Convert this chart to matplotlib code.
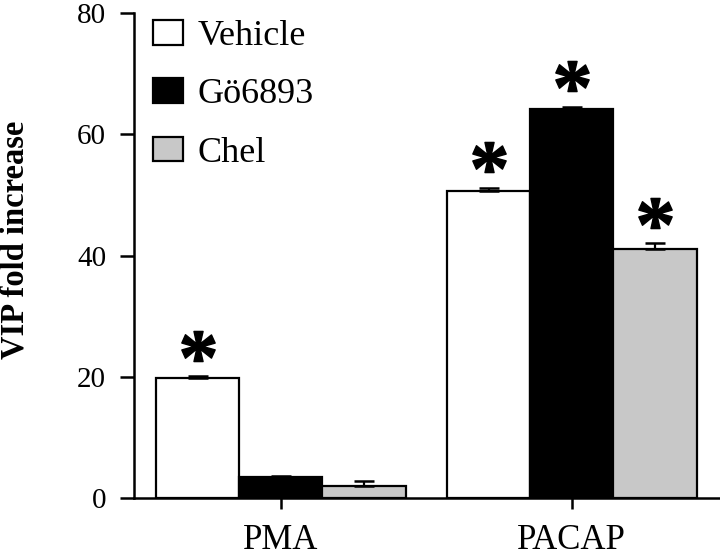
import matplotlib
matplotlib.use("Agg")
import matplotlib.pyplot as plt
import matplotlib.transforms as mtransforms
import numpy as np
from matplotlib.patches import Patch
from matplotlib.textpath import TextPath
from matplotlib.font_manager import FontProperties
from matplotlib.path import Path

groups = ["PMA", "PACAP"]
treatments = ["Vehicle", "Gö6893", "Chel"]
means = {
    "Vehicle": [19.8, 50.7],
    "Gö6893": [3.5, 64.1],
    "Chel": [2.0, 41.1],
}
errors = {
    "Vehicle": [0.3, 0.5],
    "Gö6893": [0.2, 0.4],
    "Chel": [0.8, 0.9],
}
# which bars get a significance star
stars = {
    "Vehicle": [True, True],
    "Gö6893": [False, True],
    "Chel": [False, True],
}
colors = {"Vehicle": "white", "Gö6893": "black", "Chel": "#c8c8c8"}

plt.rcParams["font.family"] = ["Liberation Serif", "DejaVu Serif"]

# star marker built from a glyph, centred on its own bbox
tp = TextPath((0, 0), "*", size=10,
              prop=FontProperties(family="Liberation Serif", weight="bold"))
verts = tp.vertices.copy()
codes = tp.codes
bb = tp.get_extents()
verts[:, 0] -= (bb.x0 + bb.x1) / 2
verts[:, 1] -= (bb.y0 + bb.y1) / 2
verts[codes == Path.CLOSEPOLY] = 0  # dummy vertices would spoil the scaling
star = Path(verts, codes)

fig = plt.figure(figsize=(7.2, 5.56), dpi=100)
ax = fig.add_axes([0.186, 0.1043, 0.814, 0.8723])
star_trans = mtransforms.offset_copy(ax.transData, fig=fig, y=22, units="points")

x = np.arange(len(groups))
w = 0.286
for i, t in enumerate(treatments):
    pos = x + (i - 1) * w
    ax.bar(pos, means[t], width=w, color=colors[t], edgecolor="black",
           linewidth=1.6, zorder=2)
    ax.errorbar(pos, means[t], yerr=[np.zeros(len(groups)), errors[t]],
                fmt="none", ecolor="black", elinewidth=1.6, capsize=7,
                capthick=1.8, zorder=3)
    for xp, m, e, s in zip(pos, means[t], errors[t], stars[t]):
        if s:
            ax.plot([xp], [m + e], marker=star, markersize=24, color="black",
                    linestyle="none", transform=star_trans, clip_on=False)

ax.set_xlim(-0.505, 1.509)
ax.set_ylim(0, 80)
ax.set_yticks([0, 20, 40, 60, 80])
ax.set_xticks(x)
ax.set_xticklabels(groups)

for s in ["top", "right"]:
    ax.spines[s].set_visible(False)
ax.spines["left"].set_linewidth(1.8)
ax.spines["bottom"].set_linewidth(1.8)
ax.tick_params(axis="y", length=10, width=1.8, pad=10, labelsize=21)
ax.tick_params(axis="x", length=8, width=1.8, pad=11, labelsize=25)

fig.text(15 / 720, 0.568, "VIP fold increase", rotation=90, ha="center",
         va="center", fontsize=23.5, fontweight="bold")

handles = [Patch(facecolor=colors[t], edgecolor="black", linewidth=1.6, label=t)
           for t in treatments]
ax.legend(handles=handles, loc="upper left", bbox_to_anchor=(153 / 720, 1 - 20 / 556),
          bbox_transform=fig.transFigure, frameon=False, fontsize=26,
          handlelength=0.83, handleheight=0.67, handletextpad=0.4,
          labelspacing=0.7, borderpad=0, borderaxespad=0)

fig.savefig("out.png", dpi=100)
